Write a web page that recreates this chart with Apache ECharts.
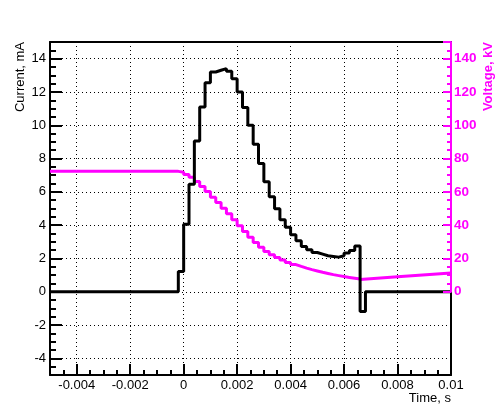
<!DOCTYPE html>
<html>
<head>
<meta charset="utf-8">
<script src="https://cdn.jsdelivr.net/npm/echarts@6/dist/echarts.min.js"></script>
<style>
  html, body { margin: 0; padding: 0; background: #fff; }
  #main { width: 502px; height: 417px; }
</style>
</head>
<body>
<div id="main"></div>
<script>
// current histogram, left bin edges (s) and values (mA)
var currentTime = [-0.005, -0.0002, 0, 0.0002, 0.0004, 0.0006, 0.0008, 0.001, 0.0012, 0.0014,
  0.0016, 0.0018, 0.002, 0.0022, 0.0024, 0.0026, 0.0028, 0.003, 0.0032, 0.0034,
  0.0036, 0.0038, 0.004, 0.0042, 0.0044, 0.0046, 0.0048, 0.005, 0.0052, 0.0054,
  0.0056, 0.0058, 0.006, 0.0062, 0.0064, 0.0066, 0.0068, 0.01];
var currentValue = [0, 1.22, 4.06, 6.46, 9.06, 11.1, 12.56, 13.2, 13.3, 13.4,
  13.25, 12.8, 12.0, 11.06, 10.0, 8.86, 7.7, 6.6, 5.7, 4.98,
  4.32, 3.88, 3.42, 3.06, 2.72, 2.52, 2.36, 2.26, 2.16, 2.12,
  2.08, 2.16, 2.32, 2.48, 2.75, -1.18, 0, 0];

// voltage histogram (kV) during the discharge
var voltTime = [-0.005, -0.0002, 0, 0.0002, 0.0004, 0.0006, 0.0008, 0.001, 0.0012, 0.0014,
  0.0016, 0.0018, 0.002, 0.0022, 0.0024, 0.0026, 0.0028, 0.003, 0.0032, 0.0034,
  0.0036, 0.0038, 0.004, 0.0042, 0.0044, 0.0046, 0.0048, 0.005, 0.0052, 0.0054,
  0.0056, 0.0058, 0.006, 0.0062, 0.0064, 0.0066];
var voltValue = [72.3, 71.8, 70.4, 68.8, 66.2, 63.2, 60.2, 56.8, 53.6, 50.2,
  46.8, 43.2, 39.6, 36.2, 32.8, 29.6, 26.8, 24.2, 22.2, 20.6,
  19.0, 17.6, 16.3, 15.2, 14.2, 13.3, 12.5, 11.7, 11.0, 10.3,
  9.7, 9.1, 8.6, 8.1, 7.6, 7.4];
// recharge after the pulse
var voltTailTime = [0.0066, 0.008, 0.01];
var voltTailValue = [7.4, 9.0, 11.3];

var font = '"Liberation Sans", Arial, Helvetica, sans-serif';
var magenta = '#ff00ff';

function pairs(xs, ys) {
  return xs.map(function (x, i) { return [x, ys[i]]; });
}

var myChart = echarts.init(document.getElementById('main'));
myChart.setOption({
  animation: false,
  backgroundColor: '#fff',
  grid: [
    { left: 50, right: 51, top: 42, bottom: 42 },
    { left: 50, right: 51, top: 42, bottom: 125.25 }
  ],
  xAxis: [{
    type: 'value', gridIndex: 0, min: -0.005, max: 0.01, splitNumber: 8,
    axisLine: { onZero: false, lineStyle: { color: '#000', width: 2 } },
    axisTick: { inside: true, length: 11, lineStyle: { color: '#000', width: 2 } },
    minorTick: { show: true, splitNumber: 4, length: 5, lineStyle: { color: '#000', width: 2 } },
    axisLabel: {
      margin: 4, color: '#000', fontSize: 13, fontFamily: font,
      formatter: function (v) { return v < -0.0045 ? '' : String(+v.toFixed(4)); }
    },
    splitLine: { show: true, lineStyle: { color: '#000', width: 1, type: [1, 3] } }
  }, {
    type: 'value', gridIndex: 0, position: 'top', min: -0.005, max: 0.01,
    axisLine: { onZero: false, lineStyle: { color: '#000', width: 2 } },
    axisTick: { show: false }, axisLabel: { show: false }, splitLine: { show: false }
  }, {
    type: 'value', gridIndex: 1, min: -0.005, max: 0.01, show: false,
    axisLine: { onZero: false }
  }],
  yAxis: [{
    type: 'value', gridIndex: 0, min: -5, max: 15, splitNumber: 10,
    axisLine: { onZero: false, lineStyle: { color: '#000', width: 2 } },
    axisTick: { inside: true, length: 12, lineStyle: { color: '#000', width: 2 } },
    minorTick: { show: true, splitNumber: 4, length: 6, lineStyle: { color: '#000', width: 2 } },
    axisLabel: {
      margin: 4, color: '#000', fontSize: 13, fontFamily: font,
      formatter: function (v) { return (v < -4.5 || v > 14.5) ? '' : String(v); }
    },
    splitLine: { show: true, lineStyle: { color: '#000', width: 1, type: [1, 3] } }
  }, {
    type: 'value', gridIndex: 0, position: 'right', min: -5, max: 15,
    axisLine: { show: true, onZero: false, lineStyle: { color: '#000', width: 2 } },
    axisTick: { show: false }, axisLabel: { show: false }, splitLine: { show: false }
  }, {
    type: 'value', gridIndex: 1, position: 'right', min: 0, max: 150, splitNumber: 7, z: 5,
    axisLine: { show: true, onZero: false, lineStyle: { color: magenta, width: 2 } },
    axisTick: { inside: true, length: 8, lineStyle: { color: magenta, width: 2 } },
    minorTick: { show: true, splitNumber: 4, length: 4, lineStyle: { color: magenta, width: 2 } },
    axisLabel: {
      margin: 3, color: magenta, fontSize: 13.5, fontWeight: 'bold', fontFamily: font,
      formatter: function (v) { return v > 145 ? '' : String(v); }
    },
    splitLine: { show: false }
  }],
  graphic: [{
    type: 'text', x: 20, y: 42, rotation: Math.PI / 2,
    style: { text: 'Current, mA', font: '13px ' + font, fill: '#000', align: 'right', verticalAlign: 'middle' }
  }, {
    type: 'text', x: 488, y: 42, rotation: Math.PI / 2,
    style: { text: 'Voltage, kV', font: 'bold 13px ' + font, fill: magenta, align: 'right', verticalAlign: 'middle' }
  }, {
    type: 'text', x: 451, y: 398,
    style: { text: 'Time, s', font: '13px ' + font, fill: '#000', align: 'right', verticalAlign: 'middle' }
  }],
  series: [{
    type: 'line', xAxisIndex: 2, yAxisIndex: 2, step: 'end', showSymbol: false, z: 3,
    lineStyle: { color: magenta, width: 3 },
    data: pairs(voltTime, voltValue)
  }, {
    type: 'line', xAxisIndex: 2, yAxisIndex: 2, showSymbol: false, z: 3,
    lineStyle: { color: magenta, width: 3 },
    data: pairs(voltTailTime, voltTailValue)
  }, {
    type: 'line', xAxisIndex: 0, yAxisIndex: 0, step: 'end', showSymbol: false, z: 4,
    lineStyle: { color: '#000', width: 3 },
    data: pairs(currentTime, currentValue)
  }]
});
</script>
</body>
</html>
